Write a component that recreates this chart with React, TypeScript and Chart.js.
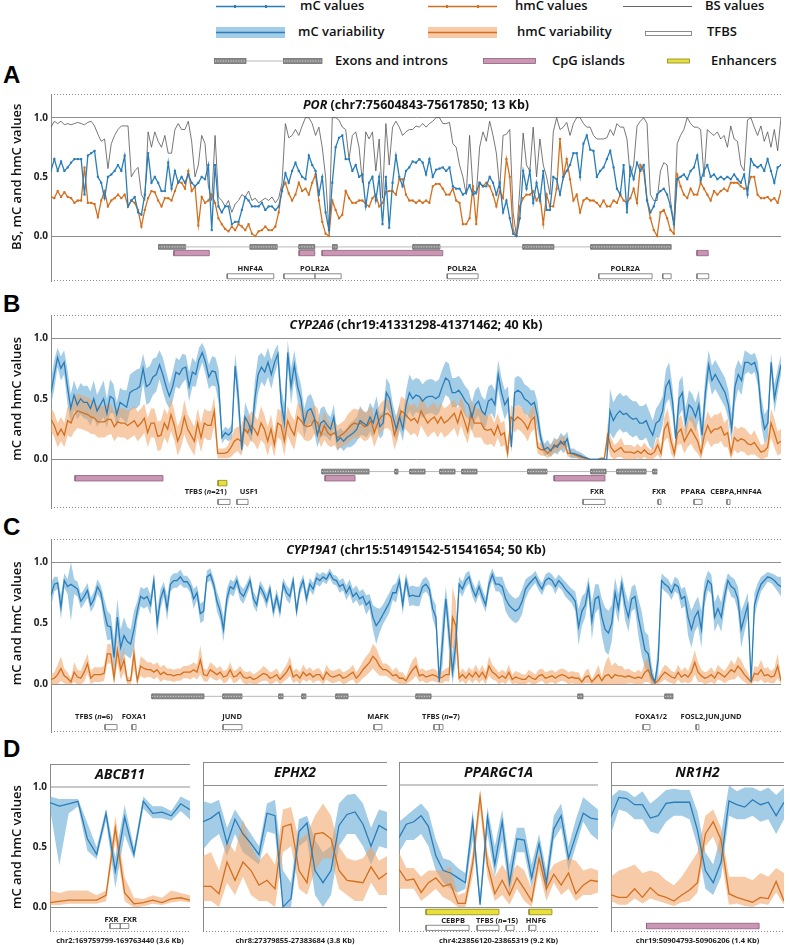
import React, { useEffect, useRef } from 'react';
import { Chart, registerables } from 'chart.js';
Chart.register(...registerables);

const FONT = "'Open Sans', 'Noto Sans', 'DejaVu Sans', sans-serif";
Chart.defaults.font.family = FONT;

const BLUE = '#2a7db8';
const BLUE_BAND = 'rgba(106,172,214,0.62)';
const ORANGE = '#d3701f';
const ORANGE_BAND = 'rgba(240,160,95,0.55)';
const GRAY_LINE = '#555555';
const EXON_FILL = '#8b8b8b';
const EXON_STROKE = '#6e6e6e';
const CPG_FILL = '#c996b3';
const CPG_STROKE = '#8f5f7c';
const TFBS_FILL = '#ffffff';
const TFBS_STROKE = '#6f6f6f';
const ENH_FILL = '#e8df3a';
const ENH_STROKE = '#8d8620';

// ================= DATA =================
// Panel A: POR (chr7:75604843-75617850; 13 Kb)
const A_LEN_KB = 13.007;
const A_MC = [
  .55,.65,.55,.63,.55,.58,.62,.65,.65,.65,
  .35,.68,.7,.72,.5,.45,.32,.5,.52,.55,
  .6,.55,.68,.25,.3,.33,.2,.18,.35,.7,
  .45,.5,.45,.38,.38,.62,.4,.55,.45,.5,
  .45,.52,.45,.42,.45,.5,.48,.6,.05,.6,
  .25,.2,.25,.25,.1,.12,.12,.22,.33,.3,
  .25,.25,.25,.28,.22,.25,.25,.22,.25,.38,
  .53,.45,.55,.62,.55,.5,.48,.68,.6,.55,
  .35,.5,.2,.05,.45,.75,.83,.85,.65,.65,
  .55,.6,.5,.52,.25,.45,.5,.3,.5,.1,
  .5,.07,.45,
  .68,.5,.42,.55,.58,.63,.62,.65,.62,
  .52,.65,.5,.56,.57,.58,.55,.58,.42,.4,
  .4,.35,.37,.43,.35,.37,.45,.42,.42,.5,
  .45,.35,.45,.2,.3,.15,.02,0,.15,.55,
  .4,.55,.28,.45,.3,.55,.22,.22,.5,.48,
  .35,.5,.55,.6,.7,.7,.5,.78,.85,.73,
  .72,.5,.55,.58,.65,.72,.58,.4,.35,.6,
  .2,.58,.48,.62,.55,.6,.3,.2,.25,.35,
  .38,.4,.35,.25,.1,.48,.5,.52,.48,.55,
  .58,.68,.47,.55,.6,.5,.52,.48,.5,.48,
  .5,.48,.52,.48,.45,.52,.35,.65,.6,.58,
  .6,.55,.65,.55,.45,.58,.6,
];
const A_HMC = [
  .33,.32,.38,.33,.37,.33,.32,.28,.3,.3,
  .58,.28,.28,.27,.16,.3,.38,.25,.3,.32,
  .35,.32,.35,.25,.3,.28,.22,.08,.22,.32,
  .38,.37,.3,.25,.32,.32,.3,.38,.46,.45,
  .4,.55,.38,.42,.09,.33,.28,.3,.35,.28,
  .15,.1,.06,.04,.08,.05,.1,.08,.05,.1,
  .02,0,.04,.05,.08,.05,.05,.08,.2,.4,
  .45,.36,.3,.35,.45,.38,.4,.35,.45,.52,
  .3,.12,.02,0,.3,.22,.15,.18,.38,.32,
  .28,.28,.3,.3,.27,.25,.32,.35,.25,.28,
  .37,.38,.38,
  .35,.48,.48,.35,.3,.3,.28,.3,.28,
  .3,.28,.42,.44,.44,.4,.35,.35,.4,.3,
  .28,.1,.1,.15,.42,.1,.45,.42,.45,.42,
  .35,.25,.38,.32,.65,.5,.05,0,.25,.32,
  .35,.35,.38,.3,.35,.1,.35,.25,.25,.4,
  .82,.5,.65,.48,.3,.35,.2,.3,.32,.3,
  .3,.28,.25,.3,.25,.25,.3,.28,.35,.3,
  .28,.32,.4,.28,.6,.55,.3,.15,.05,0,
  .2,.22,.15,.05,.02,.52,.42,.35,.32,.4,
  .35,.35,.45,.4,.35,.3,.38,.35,.38,.4,
  .38,.45,.45,.45,.42,.4,.4,.5,.5,.35,
  .32,.32,.33,.3,.32,.28,.38,
];
const A_BS = [
  .92,.97,.95,.97,.94,.95,.94,.95,.96,.95,
  .94,.96,.97,.93,.86,.8,.82,.57,.78,.85,
  .9,.93,.93,.93,.5,.55,.58,.35,.3,.88,
  .75,.88,.8,.75,.85,.7,.7,.9,.95,.9,
  .9,.97,.8,.5,.6,.85,.78,.42,.3,.85,
  .33,.3,.25,.3,.2,.27,.3,.35,.33,.38,
  .3,.32,.28,.3,.32,.3,.33,.28,.32,.45,
  .95,.83,.85,.9,.85,.93,1,1,.95,.85,
  .92,.75,.5,.05,1,1,.98,.92,.9,.65,
  .85,.88,.75,.45,.88,.82,.88,.55,.82,.32,
  .95,.6,.92,
  .97,.92,.85,.88,.9,.9,.93,.92,.95,
  .92,.95,.97,1,1,.95,.95,.96,.78,.75,
  .6,.5,.35,.85,.4,.35,.75,.88,.8,.97,
  .85,.7,.4,.85,.86,.9,.2,0,.4,.87,
  .6,.55,.92,.5,.82,.6,.5,.35,.88,1,
  .9,.92,.96,.85,.95,1,1,.95,.92,.92,
  .85,.82,.82,.82,.83,.9,.85,.95,.92,.92,
  .82,.5,.6,.93,.97,1,.95,.35,.3,.3,
  .55,.62,.6,.3,.1,.78,.85,.9,1,.95,
  .92,.92,.9,.5,.9,.87,.85,.88,.82,.85,
  .75,.93,.82,.8,.6,.55,.98,1,.92,.85,
  .93,.8,.88,.75,.9,.72,1,
];
const A_EXONS = [[1.92,2.40],[3.55,4.03],[4.42,4.70],[5.02,5.10],[6.45,6.93],[8.41,8.96],[9.62,11.05]];
const A_CPG = [[2.19,2.82],[4.42,4.70],[4.83,6.98],[11.51,11.71]];
const A_TFBS = [[3.14,3.97],[4.15,4.70],[4.70,5.17],[7.06,7.61],[9.76,10.71],[10.90,11.05],[11.51,11.72]];
const A_TF_LABELS: [number, string][] = [[3.55,'HNF4A'],[4.70,'POLR2A'],[7.32,'POLR2A'],[10.23,'POLR2A']];

// Panel B: CYP2A6 (chr19:41331298-41371462; 40 Kb)
const B_LEN_KB = 40.164;
const B_MC = [
  .55,.7,.84,.75,.8,.6,.42,.53,.45,.5,
  .47,.47,.42,.5,.4,.45,.5,.38,.52,.5,
  .37,.47,.45,.43,.55,.57,.58,.6,.75,.6,
  .62,.68,.7,.78,.7,.6,.52,.6,.72,.7,
  .75,.76,.6,.72,.7,.82,.88,.8,.68,.73,
  .72,.6,.18,.22,.2,.23,.77,.5,.08,.35,
  .3,.22,.5,.7,.76,.72,.8,.7,.8,.87,
  .47,.3,.88,.6,.78,.6,.5,.3,.4,.42,
  .35,.2,.3,.32,.28,.25,.35,.15,.18,.15,
  .18,.2,.22,.25,.32,.3,.28,.35,.3,.4,
  .27,.3,.55,.5,.35,.25,
  .35,.25,.45,.55,.5,.53,.52,.48,.51,.52,
  .52,.5,.52,.6,.67,.65,.55,.55,.57,.53,
  .48,.45,.35,.45,.48,.4,.37,.48,.5,.45,
  .7,.55,.45,.5,.1,.55,.57,.55,.5,.48,
  .45,.47,.35,.17,.08,.1,.07,.12,.1,.15,
  .12,.17,.05,.05,.04,.03,.02,.01,0,0,
  0,0,0,0,.4,.32,.37,.4,.37,.38,
  .35,.33,.34,.3,.3,.32,.25,.2,.3,.32,
  .4,.6,.65,.48,.17,.5,.55,.3,.45,.42,
  .35,.45,.2,.55,.78,.65,.7,.65,.6,.55,
  .45,.25,.6,.7,.65,.8,.8,.78,.8,.7,
  .4,.25,.3,.8,.5,.65,.78,
];
const B_MC_SD = [
  .1,.12,.08,.1,.1,.14,.12,.12,.12,.13,
  .13,.14,.14,.15,.13,.14,.15,.12,.14,.12,
  .1,.12,.12,.14,.15,.15,.16,.15,.12,.15,
  .15,.15,.14,.12,.14,.13,.1,.12,.12,.12,
  .12,.1,.12,.12,.1,.1,.08,.1,.1,.12,
  .12,.14,.05,.05,.05,.06,.1,.15,.05,.12,
  .1,.08,.15,.15,.12,.12,.12,.12,.1,.08,
  .12,.15,.1,.15,.12,.12,.12,.12,.12,.12,
  .12,.1,.12,.12,.1,.1,.1,.08,.08,.08,
  .08,.1,.1,.1,.12,.1,.1,.12,.12,.12,
  .1,.1,.12,.12,.1,.1,
  .1,.1,.12,.15,.15,.14,.14,.14,.14,.14,
  .14,.14,.14,.14,.14,.14,.12,.12,.12,.12,
  .12,.12,.12,.12,.12,.12,.12,.12,.12,.12,
  .12,.12,.12,.1,.05,.12,.12,.12,.12,.12,
  .12,.1,.12,.06,.05,.06,.05,.06,.06,.07,
  .07,.06,.04,.04,.03,.03,.02,.01,0,0,
  0,0,0,0,.18,.15,.15,.15,.15,.15,
  .15,.15,.14,.14,.14,.14,.14,.12,.12,.14,
  .12,.14,.15,.12,.08,.14,.14,.12,.12,.12,
  .12,.12,.12,.14,.12,.12,.12,.12,.12,.12,
  .12,.12,.14,.12,.12,.1,.08,.08,.08,.1,
  .12,.12,.12,.08,.12,.1,.08,
];
const B_HMC = [
  .33,.28,.2,.25,.2,.32,.3,.37,.4,.39,
  .38,.37,.35,.34,.31,.31,.31,.33,.33,.27,
  .31,.3,.3,.28,.3,.32,.27,.3,.34,.22,
  .3,.3,.19,.2,.3,.25,.37,.28,.15,.22,
  .35,.25,.2,.15,.3,.18,.3,.28,.28,.4,
  .05,.05,.05,.06,.1,.15,.17,.15,.25,.22,
  .28,.25,.2,.3,.25,.15,.25,.12,.3,.28,
  .15,.32,.25,.2,.35,.32,.28,.27,.28,.33,
  .3,.2,.28,.22,.2,.22,.18,.2,.22,.25,
  .28,.3,.29,.3,.27,.28,.32,.22,.3,.35,
  .37,.38,.35,
  .2,.28,.4,.38,.35,.32,.34,.3,.4,.35,
  .3,.33,.35,.3,.35,.3,.32,.35,.38,.3,
  .4,.32,.23,.38,.3,.3,.3,.25,.24,.25,
  .2,.28,.2,.22,.05,.35,.32,.35,.33,.3,
  .25,.32,.35,.1,.08,.08,.05,.08,.1,.12,
  .13,.15,.05,.05,.04,.03,.02,.01,0,0,
  0,0,.01,.01,.2,.1,.06,.08,.1,.06,
  .06,.06,.05,.07,.05,.08,.05,.04,.06,.12,
  .05,.25,.3,.15,.05,.22,.25,.15,.2,.25,
  .2,.15,.05,.2,.28,.22,.25,.25,.27,.2,
  .22,.05,.18,.15,.17,.16,.13,.12,.14,.1,
  .06,.07,.1,.3,.22,.13,.15,
];
const B_HMC_SD = [
  .1,.1,.1,.1,.1,.12,.12,.14,.14,.14,
  .14,.14,.14,.13,.13,.13,.13,.13,.12,.12,
  .12,.12,.12,.12,.12,.12,.12,.12,.12,.12,
  .12,.12,.12,.12,.12,.12,.14,.12,.12,.12,
  .14,.12,.12,.12,.12,.12,.12,.12,.12,.12,
  .04,.04,.04,.05,.08,.1,.1,.12,.12,.12,
  .12,.12,.12,.14,.12,.12,.12,.1,.12,.12,
  .12,.12,.12,.12,.12,.12,.12,.12,.12,.12,
  .12,.1,.12,.1,.1,.1,.1,.1,.1,.12,
  .12,.12,.12,.12,.12,.12,.12,.12,.12,.12,
  .12,.12,.12,
  .12,.12,.12,.12,.12,.12,.12,.12,.12,.12,
  .12,.12,.12,.12,.12,.12,.12,.12,.12,.12,
  .12,.12,.1,.12,.12,.12,.12,.12,.12,.12,
  .1,.1,.1,.1,.05,.1,.1,.1,.1,.1,
  .1,.1,.1,.05,.05,.05,.04,.05,.05,.05,
  .05,.05,.03,.03,.02,.02,.02,.01,0,0,
  0,0,0,0,.1,.08,.06,.06,.08,.06,
  .06,.06,.05,.06,.05,.06,.05,.04,.05,.08,
  .05,.1,.12,.1,.05,.1,.12,.1,.1,.12,
  .12,.1,.05,.1,.12,.12,.12,.12,.12,.1,
  .12,.05,.1,.1,.1,.1,.1,.08,.1,.08,
  .06,.06,.08,.12,.12,.1,.1,
];
const B_EXONS = [[14.91,17.50],[18.93,19.09],[19.75,20.58],[21.40,22.23],[22.61,23.44],[26.24,27.29],[29.71,30.54],[31.14,32.74],[33.12,33.34]];
const B_CPG = [[1.32,6.16],[15.08,16.73],[27.68,30.48]];
const B_ENH = [[9.19,9.68]];
const B_TFBS = [[9.19,9.85],[10.23,10.84],[29.27,30.48],[33.40,33.56],[35.38,35.82],[37.19,37.36]];
const B_TF_LABELS: [number, string][] = [[8.51,'TFBS (*n*=21)'],[10.89,'USF1'],[30.04,'FXR'],[33.45,'FXR'],[35.32,'PPARA'],[37.69,'CEBPA,HNF4A']];

// Panel C: CYP19A1 (chr15:51491542-51541654; 50 Kb)
const C_LEN_KB = 50.112;
const C_MC = [
  .73,.82,.83,.63,.85,.8,.82,.8,.78,.68,
  .72,.77,.65,.7,.8,.75,.6,.48,.47,.22,
  .55,.3,.4,.35,.33,.45,.6,.72,.7,.72,
  .65,.85,.5,.7,.78,.62,.82,.85,.85,.88,
  .84,.84,.8,.7,.75,.58,.6,.88,.9,.82,
  .68,.6,.45,.7,.8,.78,.85,.75,.72,.78,
  .85,.7,.65,.8,.75,.68,.78,.6,.72,.6,
  .82,.75,.72,.85,.6,.78,.85,.7,.82,.78,
  .87,.85,.88,.86,.91,.86,.85,.8,.82,.75,
  .8,.72,.75,.7,.72,.65,.68,.55,.48,.52,
  .57,.62,.67,.75,
  .75,.85,.65,.85,.72,.73,.72,.72,.8,.82,
  .78,.62,.55,.02,.35,.7,.4,.1,.33,.82,
  .78,.85,.88,.78,.72,.8,.72,.65,.82,.9,
  .82,.82,.8,.7,.65,.62,.6,.62,.68,.78,
  .82,.85,.88,.82,.78,.85,.87,.85,.8,.85,
  .82,.78,.75,.72,.68,.47,.6,.65,.8,.52,
  .7,.72,.55,.45,.42,.5,.75,.62,.82,.65,
  .55,.7,.72,.55,.42,.28,.25,.08,.02,.2,
  .85,.82,.8,.75,.82,.8,.7,.72,.55,.45,
  .55,.6,.45,.75,.85,.82,.55,.62,.55,.72,
  .85,.8,.78,.7,.45,.55,.65,.02,.65,
  .75,.82,.85,.88,.87,.85,.82,.8,
];
const C_MC_SD = [
  .1,.06,.05,.1,.06,.06,.3,.06,.06,.06,
  .06,.06,.06,.06,.06,.06,.1,.12,.1,.15,
  .15,.15,.15,.12,.12,.15,.08,.08,.08,.08,
  .08,.06,.1,.08,.06,.1,.06,.06,.06,.06,
  .05,.05,.05,.08,.06,.08,.08,.05,.05,.05,
  .08,.08,.1,.08,.06,.06,.05,.06,.06,.05,
  .05,.06,.06,.05,.05,.06,.05,.06,.06,.06,
  .05,.06,.06,.05,.06,.05,.05,.06,.05,.05,
  .05,.05,.04,.04,.04,.04,.04,.05,.05,.06,
  .06,.06,.06,.06,.06,.08,.06,.1,.15,.1,
  .08,.08,.08,.06,
  .08,.06,.08,.06,.08,.08,.08,.08,.06,.06,
  .06,.08,.1,.1,.2,.1,.15,.15,.15,.06,
  .06,.06,.05,.06,.06,.06,.06,.06,.06,.05,
  .06,.06,.08,.1,.1,.1,.1,.1,.1,.08,
  .06,.05,.05,.05,.05,.05,.05,.05,.06,.05,
  .05,.06,.06,.06,.08,.15,.12,.1,.08,.15,
  .12,.1,.15,.18,.18,.15,.12,.12,.08,.12,
  .12,.1,.1,.15,.18,.15,.15,.08,.02,.15,
  .06,.06,.06,.06,.06,.06,.08,.08,.15,.15,
  .12,.12,.15,.1,.08,.08,.12,.12,.12,.1,
  .06,.08,.08,.1,.15,.12,.1,.02,.1,
  .08,.06,.05,.04,.04,.05,.06,.08,
];
const C_HMC = [
  .04,.05,.08,.13,.07,.05,.02,.1,.06,.05,
  .1,.17,.05,.08,.08,.08,.09,.25,.25,.05,
  .28,.12,.2,.03,.03,.25,.03,.15,.13,.12,
  .12,.1,.12,.08,.1,.08,.08,.07,.08,.08,
  .1,.1,.1,.12,.1,.2,.08,.07,.12,.1,
  .08,.1,.06,.07,.12,.06,.07,.1,.06,.05,
  .06,.04,.05,.07,.09,.08,.05,.06,.08,.04,
  .07,.1,.15,.06,.08,.05,.1,.07,.09,.06,
  .08,.08,.04,.1,.07,.06,.07,.08,.05,.06,
  .08,.1,.05,.08,.12,.15,.18,.23,.2,.15,
  .12,.12,.1,.07,
  .08,.05,.05,.03,.08,.12,.15,.07,.08,.06,
  .07,.08,.07,.05,.06,.08,.08,.55,.48,.05,
  .08,.05,.09,.06,.1,.06,.1,.05,.15,.1,
  .08,.05,.07,.05,.1,.04,.06,.05,.04,.04,
  .07,.05,.04,.07,.08,.05,.06,.07,.05,.07,
  .08,.07,.05,.06,.05,.05,.02,.06,.07,.02,
  .05,.08,.03,.07,.08,.05,.08,.07,.07,.06,
  .07,.06,.05,.06,.05,.1,.12,.05,.01,.03,
  .07,.1,.08,.06,.05,.1,.06,.08,.06,.1,
  .18,.1,.07,.05,.06,.08,.05,.1,.08,.06,
  .09,.12,.1,.15,.12,.08,.05,.02,.09,
  .08,.12,.07,.08,.06,.07,.15,.03,
];
const C_HMC_SD = [
  .04,.05,.08,.1,.06,.05,.03,.08,.06,.06,
  .08,.08,.06,.06,.06,.06,.06,.08,.08,.06,
  .1,.08,.1,.03,.03,.12,.03,.08,.08,.06,
  .06,.06,.06,.06,.06,.05,.05,.05,.05,.05,
  .05,.05,.06,.06,.06,.12,.05,.05,.06,.06,
  .05,.05,.05,.05,.06,.05,.05,.05,.05,.05,
  .05,.04,.05,.05,.06,.05,.05,.05,.05,.04,
  .05,.06,.08,.05,.05,.05,.06,.05,.05,.05,
  .05,.05,.04,.06,.05,.05,.05,.05,.05,.05,
  .05,.06,.05,.06,.07,.08,.08,.1,.1,.08,
  .05,.05,.05,.04,
  .06,.05,.05,.03,.06,.08,.08,.05,.05,.05,
  .05,.05,.05,.04,.05,.05,.06,.25,.2,.04,
  .05,.05,.05,.05,.06,.05,.06,.05,.08,.06,
  .05,.05,.05,.05,.06,.04,.05,.05,.04,.04,
  .05,.05,.04,.05,.05,.05,.05,.05,.05,.05,
  .05,.05,.05,.05,.05,.05,.02,.05,.06,.02,
  .05,.08,.03,.1,.15,.1,.1,.08,.08,.06,
  .06,.05,.05,.06,.05,.08,.1,.05,.01,.03,
  .05,.06,.06,.05,.05,.06,.05,.06,.05,.08,
  .1,.08,.05,.05,.05,.06,.05,.06,.05,.05,
  .06,.08,.06,.08,.08,.06,.05,.02,.06,
  .06,.08,.06,.06,.05,.06,.1,.03,
];
const C_EXONS = [[6.93,10.50],[11.81,13.11],[15.65,15.93],[17.23,17.50],[19.56,20.39],[25.06,26.09],[36.18,36.52],[42.15,42.70]];
const C_TFBS = [[3.71,4.53],[5.56,5.84],[11.81,13.11],[22.17,22.72],[26.29,26.64],[26.64,26.91],[40.64,41.12],[44.28,44.48]];
const C_TF_LABELS: [number, string][] = [[2.95,'TFBS (*n*=6)'],[5.70,'FOXA1'],[12.43,'JUND'],[22.45,'MAFK'],[26.77,'TFBS (*n*=7)'],[41.19,'FOXA1/2'],[45.31,'FOSL2,JUN,JUND']];

// Panel D1: ABCB11 chr2:169759799-169763440 (3.6 Kb)
const D1_LEN_KB = 3.641;
const D1_MC    = [.87,.84,.86,.88,.57,.44,.78,.3,.75,.44,.88,.78,.79,.76,.86,.81];
const D1_MC_LO = [.82,.35,.78,.84,.47,.4,.72,.16,.6,.4,.82,.74,.74,.72,.8,.73];
const D1_MC_HI = [.92,.9,.9,.9,.7,.5,.82,.42,.85,.5,.92,.84,.84,.8,.92,.88];
const D1_HMC    = [.04,.05,.06,.06,.06,.06,.1,.66,.12,.03,.04,.06,.04,.07,.08,.06];
const D1_HMC_LO = [.02,.02,.03,.03,.03,.03,.05,.55,.05,0,.01,.03,.02,.04,.05,.04];
const D1_HMC_HI = [.14,.12,.14,.14,.14,.1,.14,.76,.25,.08,.07,.1,.08,.14,.12,.1];
const D1_TFBS = [[1.56,1.82],[1.82,2.05]];
const D1_TF_LABELS: [number, string][] = [[1.60,'FXR'],[2.08,'FXR']];

// Panel D2: EPHX2 chr8:27379855-27383684 (3.8 Kb)
const D2_LEN_KB = 3.829;
const D2_MC    = [.7,.73,.78,.52,.72,.6,.52,.43,.77,.75,0,.07,.62,.69,.3,.2,.3,.67,.76,.78,.68,.5,.67,.63];
const D2_MC_LO = [.47,.55,.6,.42,.6,.45,.4,.35,.62,.6,0,0,.5,.55,.1,0,.1,.5,.6,.6,.5,.35,.5,.48];
const D2_MC_HI = [.87,.85,.88,.65,.8,.7,.6,.5,.85,.88,.3,.2,.72,.75,.55,.45,.5,.85,.92,.93,.85,.65,.8,.78];
const D2_HMC    = [.17,.17,.11,.37,.22,.37,.3,.18,.22,.15,.66,.68,.3,.2,.6,.61,.56,.3,.22,.21,.2,.33,.23,.28];
const D2_HMC_LO = [.05,.05,0,.2,.1,.25,.1,.05,.05,0,.45,.5,.15,.1,.3,.4,.4,.15,.1,.05,.05,.2,.1,.1];
const D2_HMC_HI = [.42,.45,.3,.55,.45,.72,.5,.38,.45,.35,.8,.82,.55,.6,.75,.85,.75,.5,.4,.38,.4,.5,.38,.42];

// Panel D3: PPARGC1A chr4:23856120-23865319 (9.2 Kb)
const D3_LEN_KB = 9.199;
const D3_MC    = [.57,.68,.7,.75,.66,.42,.3,.28,.24,.2,.71,.02,.74,.35,.7,.2,.56,.55,.24,.52,.2,.64,.75,.4,.59,.77,.73,.72];
const D3_MC_LO = [.45,.55,.55,.6,.5,.3,.2,.15,.12,.15,.55,0,.6,.25,.55,.1,.45,.45,.15,.45,.1,.55,.65,.3,.5,.7,.6,.55];
const D3_MC_HI = [.7,.75,.8,.85,.78,.55,.4,.38,.32,.28,.8,.1,.82,.5,.8,.35,.65,.65,.35,.6,.3,.75,.85,.5,.72,.9,.85,.8];
const D3_HMC    = [.31,.22,.23,.12,.2,.24,.17,.19,.03,.03,.36,.91,.35,.11,.22,.1,.24,.15,.05,.4,.15,.27,.18,.28,.11,.18,.22,.21];
const D3_HMC_LO = [.15,.15,.15,.05,.1,.15,.08,.05,0,0,.25,.8,.25,.05,.1,.02,.15,.05,0,.3,.05,.2,.1,.15,.05,.1,.1,.12];
const D3_HMC_HI = [.45,.32,.32,.25,.3,.3,.3,.33,.1,.12,.45,.95,.45,.25,.35,.25,.35,.3,.15,.45,.25,.35,.38,.4,.38,.3,.32,.3];
const D3_ENH = [[1.25,4.62],[6.01,7.07]];
const D3_TFBS = [[1.25,3.24],[3.61,4.62],[4.95,5.32],[6.01,6.33]];
const D3_TF_LABELS: [number, string][] = [[2.50,'CEBPB'],[4.53,'TFBS (*n*=15)'],[6.33,'HNF6']];

// Panel D4: NR1H2 chr19:50904793-50906206 (1.4 Kb)
const D4_LEN_KB = 1.413;
const D4_MC    = [.74,.9,.89,.84,.84,.73,.75,.85,.86,.86,.86,.63,.3,.2,.37,.87,.84,.82,.88,.84,.86,.75,.86];
const D4_MC_LO = [.6,.8,.78,.72,.72,.62,.6,.7,.75,.75,.72,.5,.15,.1,.25,.75,.72,.72,.75,.7,.72,.6,.72];
const D4_MC_HI = [.9,.96,.95,.9,.95,.85,.9,.96,.97,.96,.96,.78,.45,.35,.6,1,.95,.98,.98,.95,.98,.92,.98];
const D4_HMC    = [.1,.08,.08,.15,.08,.16,.1,.08,.05,.1,.14,.2,.6,.7,.55,.11,.08,.06,.04,.08,.07,.21,.05];
const D4_HMC_LO = [.05,.02,.02,.07,.03,.07,.05,.03,.01,.04,.05,.12,.5,.58,.4,.02,.03,.01,0,.03,.02,.12,.02];
const D4_HMC_HI = [.25,.3,.32,.35,.28,.3,.28,.22,.18,.25,.35,.45,.75,.8,.65,.25,.25,.25,.22,.28,.25,.32,.28];
const D4_CPG = [[0.29,1.21]];

// ================= HELPERS =================
type XY = { x: number; y: number };
const toPts = (vals: number[], len: number): XY[] =>
  vals.map((v, i) => ({ x: (i * len) / (vals.length - 1), y: v }));
const clip01 = (v: number) => Math.max(0, Math.min(1, v));

function drawRich(ctx: CanvasRenderingContext2D, text: string, cx: number, cy: number, size: number, weight: string, color: string) {
  const parts = text.split('*');
  const fonts = parts.map((_, i) => `${i % 2 === 1 ? 'italic ' : ''}${weight} ${size}px ${FONT}`);
  let total = 0;
  const widths = parts.map((p, i) => {
    ctx.font = fonts[i];
    const w = ctx.measureText(p).width;
    total += w;
    return w;
  });
  let x = cx - total / 2;
  ctx.textAlign = 'left';
  ctx.textBaseline = 'middle';
  ctx.fillStyle = color;
  parts.forEach((p, i) => {
    ctx.font = fonts[i];
    ctx.fillText(p, x, cy);
    x += widths[i];
  });
}

const annoPlugin = {
  id: 'anno',
  afterDatasetsDraw(chart: any, _args: any, opts: any) {
    const { ctx, chartArea, scales } = chart;
    const xs = scales.x, ys = scales.y;
    ctx.save();
    for (const [x, t] of opts.labels || []) {
      drawRich(ctx, t, xs.getPixelForValue(x), ys.getPixelForValue(opts.labelY), opts.labelSize, '700', '#222');
    }
    if (opts.title) {
      drawRich(ctx, opts.title, (chartArea.left + chartArea.right) / 2, ys.getPixelForValue(1.1), opts.titleSize, '700', '#111');
    }
    ctx.restore();
  },
  afterDraw(chart: any, _args: any, opts: any) {
    const { ctx, chartArea, scales } = chart;
    const { left, right, top, bottom } = chartArea;
    ctx.save();
    ctx.strokeStyle = '#8a8a8a';
    ctx.lineWidth = 1;
    ctx.setLineDash(opts.solidTop ? [] : [1, 2]);
    ctx.beginPath();
    ctx.moveTo(left, Math.round(top) + 0.5);
    ctx.lineTo(right, Math.round(top) + 0.5);
    ctx.stroke();
    ctx.setLineDash([1, 2]);
    ctx.beginPath();
    ctx.moveTo(left, Math.round(bottom) - 0.5);
    ctx.lineTo(right, Math.round(bottom) - 0.5);
    ctx.stroke();
    ctx.setLineDash([]);
    if (opts.yTitle) {
      ctx.translate(opts.yTitleX, scales.y.getPixelForValue(0.5));
      ctx.rotate(-Math.PI / 2);
      ctx.font = `600 13px ${FONT}`;
      ctx.fillStyle = '#111';
      ctx.textAlign = 'center';
      ctx.textBaseline = 'middle';
      ctx.fillText(opts.yTitle, 0, 0);
    }
    ctx.restore();
  },
};

interface Spec {
  len: number; yMin: number; yMax: number;
  mC: number[]; hmC: number[]; bs?: number[];
  mCsd?: number[]; hmCsd?: number[];
  mClo?: number[]; mChi?: number[]; hmClo?: number[]; hmChi?: number[];
  markers?: boolean;
  exons?: number[][]; exonY?: number;
  cpg?: number[][]; cpgY?: number;
  enh?: number[][]; enhY?: number;
  tfbs?: number[][]; tfbsY?: number;
  labels?: [number, string][]; labelY?: number; labelSize?: number;
  title: string; titleSize: number;
  yTitle?: string; showTicks: boolean; yWidth: number;
  xTitle?: string;
  pad: { top: number; right: number; bottom: number; left: number };
  solidTop?: boolean; lightOne?: boolean;
}

function buildConfig(s: Spec) {
  const ds: any[] = [];
  const line = (data: XY[], color: string, w: number, order: number, extra: any = {}) => ({
    type: 'line', data, borderColor: color, backgroundColor: color, borderWidth: w,
    pointRadius: 0, pointHoverRadius: 0, fill: false, tension: 0, order, ...extra,
  });
  const mk = s.markers ? { pointRadius: 1.5, pointStyle: 'rect', pointBorderWidth: 0 } : {};
  ds.push(line(toPts(s.mC, s.len), BLUE, 1.3, 1, { ...mk, pointBackgroundColor: BLUE }));
  ds.push(line(toPts(s.hmC, s.len), ORANGE, 1.3, 2, { ...mk, pointBackgroundColor: ORANGE }));
  if (s.bs) ds.push(line(toPts(s.bs, s.len), GRAY_LINE, 0.8, 3));

  const band = (lo: number[], hi: number[], color: string, order: number) => {
    ds.push(line(toPts(hi, s.len), 'rgba(0,0,0,0)', 0, order));
    ds.push(line(toPts(lo, s.len), 'rgba(0,0,0,0)', 0, order, { fill: '-1', backgroundColor: color }));
  };
  if (s.mCsd) {
    const sd = s.mCsd;
    band(s.mC.map((v, i) => clip01(v - (sd[i] ?? 0.1))), s.mC.map((v, i) => clip01(v + (sd[i] ?? 0.1))), BLUE_BAND, 11);
  }
  if (s.mClo && s.mChi) band(s.mClo, s.mChi, BLUE_BAND, 11);
  if (s.hmCsd) {
    const sd = s.hmCsd;
    band(s.hmC.map((v, i) => clip01(v - (sd[i] ?? 0.1))), s.hmC.map((v, i) => clip01(v + (sd[i] ?? 0.1))), ORANGE_BAND, 10);
  }
  if (s.hmClo && s.hmChi) band(s.hmClo, s.hmChi, ORANGE_BAND, 10);

  const rect = (x0: number, x1: number, yc: number, h: number, fillC: string, strokeC: string, order: number) =>
    line([{ x: x0, y: yc - h / 2 }, { x: x1, y: yc - h / 2 }, { x: x1, y: yc + h / 2 }, { x: x0, y: yc + h / 2 }, { x: x0, y: yc - h / 2 }],
      strokeC, 0.8, order, { fill: 'shape', backgroundColor: fillC });

  if (s.exons && s.exons.length) {
    const y = s.exonY!;
    const ex = s.exons;
    if (ex.length > 1) ds.push(line([{ x: ex[0][1], y }, { x: ex[ex.length - 1][0], y }], '#b8b8b8', 1, 45));
    for (const [a, b] of ex) {
      ds.push(rect(a, b, y, 0.04, EXON_FILL, EXON_STROKE, 42));
      ds.push(line([{ x: a, y }, { x: b, y }], 'rgba(235,235,235,0.85)', 1, 41, { borderDash: [1, 1.6] }));
    }
  }
  for (const [a, b] of s.cpg || []) ds.push(rect(a, b, s.cpgY!, 0.045, CPG_FILL, CPG_STROKE, 40));
  for (const [a, b] of s.enh || []) ds.push(rect(a, b, s.enhY!, 0.045, ENH_FILL, ENH_STROKE, 40));
  for (const [a, b] of s.tfbs || []) ds.push(rect(a, b, s.tfbsY!, 0.042, TFBS_FILL, TFBS_STROKE, 40));

  return {
    type: 'line',
    data: { datasets: ds },
    plugins: [annoPlugin],
    options: {
      animation: false,
      responsive: false,
      maintainAspectRatio: false,
      events: [],
      layout: { padding: s.pad },
      plugins: {
        legend: { display: false },
        tooltip: { enabled: false },
        anno: {
          labels: s.labels || [], labelY: s.labelY ?? 0, labelSize: s.labelSize ?? 7.5,
          title: s.title, titleSize: s.titleSize, solidTop: !!s.solidTop,
          yTitle: s.yTitle || '', yTitleX: 17.5,
        },
      },
      scales: {
        x: {
          type: 'linear', min: 0, max: s.len,
          display: !!s.xTitle,
          ticks: { display: false },
          grid: { display: false, drawTicks: false },
          border: { display: false },
          title: {
            display: !!s.xTitle, text: s.xTitle || '',
            font: { family: FONT, size: 7.5, weight: '700' }, color: '#222',
            padding: { top: 4.5, bottom: 0 },
          },
        },
        y: {
          type: 'linear', min: s.yMin, max: s.yMax,
          afterBuildTicks: (sc: any) => { sc.ticks = [0, 0.5, 1].map((value) => ({ value })); },
          afterFit: (sc: any) => { sc.width = s.yWidth; },
          ticks: {
            display: s.showTicks, padding: 3, color: '#222',
            font: { family: FONT, size: 10, weight: '700' },
            callback: (v: any) => Number(v).toFixed(1),
          },
          grid: {
            drawTicks: false,
            color: (c: any) => {
              const v = c.tick ? c.tick.value : null;
              if (v === 0.5) return 'rgba(0,0,0,0)';
              if (v === 1 && s.lightOne) return '#c8c8c8';
              return '#8e8e8e';
            },
            lineWidth: (c: any) => (c.tick && c.tick.value === 1 && s.lightOne ? 2 : 1),
          },
          border: { display: true, color: '#8a8a8a', width: 1 },
          title: { display: false },
        },
      },
    },
  };
}

// ================= SPECS =================
const SPEC_A: Spec = {
  len: A_LEN_KB, yMin: -0.38, yMax: 1.2,
  mC: A_MC, hmC: A_HMC, bs: A_BS, markers: true,
  exons: A_EXONS, exonY: -0.092, cpg: A_CPG, cpgY: -0.144,
  tfbs: A_TFBS, tfbsY: -0.34, labels: A_TF_LABELS, labelY: -0.28,
  title: '*POR* (chr7:75604843-75617850; 13 Kb)', titleSize: 12.5,
  yTitle: 'BS, mC and hmC values', showTicks: true, yWidth: 51,
  pad: { top: 5, right: 9, bottom: 5, left: 0 },
};
const SPEC_B: Spec = {
  len: B_LEN_KB, yMin: -0.4, yMax: 1.19,
  mC: B_MC, hmC: B_HMC, mCsd: B_MC_SD, hmCsd: B_HMC_SD,
  exons: B_EXONS, exonY: -0.1, cpg: B_CPG, cpgY: -0.155, enh: B_ENH, enhY: -0.195,
  tfbs: B_TFBS, tfbsY: -0.35, labels: B_TF_LABELS, labelY: -0.27,
  title: '*CYP2A6* (chr19:41331298-41371462; 40 Kb)', titleSize: 12.5,
  yTitle: 'mC and hmC values', showTicks: true, yWidth: 51,
  pad: { top: 10, right: 9, bottom: 6, left: 0 },
};
const SPEC_C: Spec = {
  len: C_LEN_KB, yMin: -0.39, yMax: 1.19,
  mC: C_MC, hmC: C_HMC, mCsd: C_MC_SD, hmCsd: C_HMC_SD,
  exons: C_EXONS, exonY: -0.098,
  tfbs: C_TFBS, tfbsY: -0.35, labels: C_TF_LABELS, labelY: -0.27,
  title: '*CYP19A1* (chr15:51491542-51541654; 50 Kb)', titleSize: 12.5,
  yTitle: 'mC and hmC values', showTicks: true, yWidth: 51,
  pad: { top: 9, right: 9, bottom: 7, left: 0 },
};
const D_PAD = { top: 7, right: 2, bottom: 0, left: 0 };
const SPEC_D1: Spec = {
  len: D1_LEN_KB, yMin: -0.2, yMax: 1.19,
  mC: D1_MC, hmC: D1_HMC, mClo: D1_MC_LO, mChi: D1_MC_HI, hmClo: D1_HMC_LO, hmChi: D1_HMC_HI,
  tfbs: D1_TFBS, tfbsY: -0.155, labels: D1_TF_LABELS, labelY: -0.107,
  title: '*ABCB11*', titleSize: 14, yTitle: 'mC and hmC values', showTicks: true, yWidth: 50,
  xTitle: 'chr2:169759799-169763440 (3.6 Kb)', pad: D_PAD, solidTop: true, lightOne: true,
};
const SPEC_D2: Spec = {
  len: D2_LEN_KB, yMin: -0.2, yMax: 1.19,
  mC: D2_MC, hmC: D2_HMC, mClo: D2_MC_LO, mChi: D2_MC_HI, hmClo: D2_HMC_LO, hmChi: D2_HMC_HI,
  title: '*EPHX2*', titleSize: 14, showTicks: false, yWidth: 1,
  xTitle: 'chr8:27379855-27383684 (3.8 Kb)', pad: D_PAD, solidTop: true,
};
const SPEC_D3: Spec = {
  len: D3_LEN_KB, yMin: -0.2, yMax: 1.19,
  mC: D3_MC, hmC: D3_HMC, mClo: D3_MC_LO, mChi: D3_MC_HI, hmClo: D3_HMC_LO, hmChi: D3_HMC_HI,
  enh: D3_ENH, enhY: -0.04, tfbs: D3_TFBS, tfbsY: -0.17, labels: D3_TF_LABELS, labelY: -0.115,
  title: '*PPARGC1A*', titleSize: 14, showTicks: false, yWidth: 1,
  xTitle: 'chr4:23856120-23865319 (9.2 Kb)', pad: D_PAD, solidTop: true, lightOne: true,
};
const SPEC_D4: Spec = {
  len: D4_LEN_KB, yMin: -0.2, yMax: 1.19,
  mC: D4_MC, hmC: D4_HMC, mClo: D4_MC_LO, mChi: D4_MC_HI, hmClo: D4_HMC_LO, hmChi: D4_HMC_HI,
  cpg: D4_CPG, cpgY: -0.155,
  title: '*NR1H2*', titleSize: 14, showTicks: false, yWidth: 1,
  xTitle: 'chr19:50904793-50906206 (1.4 Kb)', pad: D_PAD, solidTop: true,
};

// ================= COMPONENTS =================
function PanelChart({ spec, left, top, width, height }: { spec: Spec; left: number; top: number; width: number; height: number }) {
  const ref = useRef<HTMLCanvasElement | null>(null);
  useEffect(() => {
    if (!ref.current) return;
    const chart = new Chart(ref.current, buildConfig(spec) as any);
    return () => chart.destroy();
  }, [spec]);
  return <canvas ref={ref} width={width} height={height} style={{ position: 'absolute', left, top, width, height }} />;
}

function Letter({ ch, top }: { ch: string; top: number }) {
  return (
    <div style={{ position: 'absolute', left: 3, top, fontFamily: "'Liberation Sans', Arial, sans-serif", fontWeight: 700, fontSize: 24, lineHeight: '24px', color: '#000' }}>{ch}</div>
  );
}

function Legend() {
  const T = (x: number, top: number, text: string) => (
    <div style={{ position: 'absolute', left: x, top, fontFamily: FONT, fontSize: 13, fontWeight: 600, lineHeight: '13px', whiteSpace: 'nowrap', color: '#111' }}>{text}</div>
  );
  return (
    <>
      <svg width={790} height={72} style={{ position: 'absolute', left: 0, top: 0 }}>
        <line x1={216} y1={6.5} x2={285} y2={6.5} stroke={BLUE} strokeWidth={1.3} />
        <rect x={234} y={5} width={2} height={3} fill={BLUE} />
        <rect x={265} y={5} width={2} height={3} fill={BLUE} />
        <line x1={428} y1={6.5} x2={497} y2={6.5} stroke={ORANGE} strokeWidth={1.3} />
        <rect x={446} y={5} width={2} height={3} fill={ORANGE} />
        <rect x={477} y={5} width={2} height={3} fill={ORANGE} />
        <line x1={623} y1={6.5} x2={692} y2={6.5} stroke={GRAY_LINE} strokeWidth={0.9} />
        <rect x={216} y={27} width={69} height={11} fill={BLUE_BAND} />
        <line x1={216} y1={32.5} x2={285} y2={32.5} stroke={BLUE} strokeWidth={1.3} />
        <rect x={428} y={27} width={69} height={11} fill={ORANGE_BAND} />
        <line x1={428} y1={32.5} x2={497} y2={32.5} stroke={ORANGE} strokeWidth={1.3} />
        <rect x={645.5} y={31.5} width={46} height={4} fill={TFBS_FILL} stroke={TFBS_STROKE} strokeWidth={0.8} />
        <line x1={246} y1={61} x2={283} y2={61} stroke="#b8b8b8" strokeWidth={1} />
        <rect x={214.5} y={58.5} width={31.5} height={5} fill={EXON_FILL} stroke={EXON_STROKE} strokeWidth={0.8} />
        <rect x={283.5} y={58.5} width={38.5} height={5} fill={EXON_FILL} stroke={EXON_STROKE} strokeWidth={0.8} />
        <line x1={215} y1={61} x2={246} y2={61} stroke="rgba(235,235,235,0.85)" strokeWidth={1} strokeDasharray="1 1.6" />
        <line x1={284} y1={61} x2={322} y2={61} stroke="rgba(235,235,235,0.85)" strokeWidth={1} strokeDasharray="1 1.6" />
        <rect x={483.5} y={58.5} width={52} height={5} fill={CPG_FILL} stroke={CPG_STROKE} strokeWidth={0.8} />
        <rect x={667.5} y={59} width={22} height={4} fill={ENH_FILL} stroke={ENH_STROKE} strokeWidth={0.8} />
      </svg>
      {T(300, -1, 'mC values')}
      {T(515, -1, 'hmC values')}
      {T(705, -1, 'BS values')}
      {T(298, 25, 'mC variability')}
      {T(517, 25, 'hmC variability')}
      {T(707, 25, 'TFBS')}
      {T(335, 53.5, 'Exons and introns')}
      {T(552, 53.5, 'CpG islands')}
      {T(711, 53.5, 'Enhancers')}
    </>
  );
}

export default function App() {
  return (
    <div style={{ position: 'absolute', left: 0, top: 0, width: 790, height: 945, overflow: 'hidden', background: '#fff' }}>
      <Legend />
      <Letter ch="A" top={63} />
      <Letter ch="B" top={292} />
      <Letter ch="C" top={515} />
      <Letter ch="D" top={737} />
      <PanelChart spec={SPEC_A} left={0} top={85} width={790} height={205} />
      <PanelChart spec={SPEC_B} left={0} top={305} width={790} height={212} />
      <PanelChart spec={SPEC_C} left={0} top={530} width={790} height={211} />
      <PanelChart spec={SPEC_D1} left={0} top={755} width={192} height={190} />
      <PanelChart spec={SPEC_D2} left={202} top={755} width={187} height={190} />
      <PanelChart spec={SPEC_D3} left={398} top={755} width={202} height={190} />
      <PanelChart spec={SPEC_D4} left={610} top={755} width={176} height={190} />
    </div>
  );
}
